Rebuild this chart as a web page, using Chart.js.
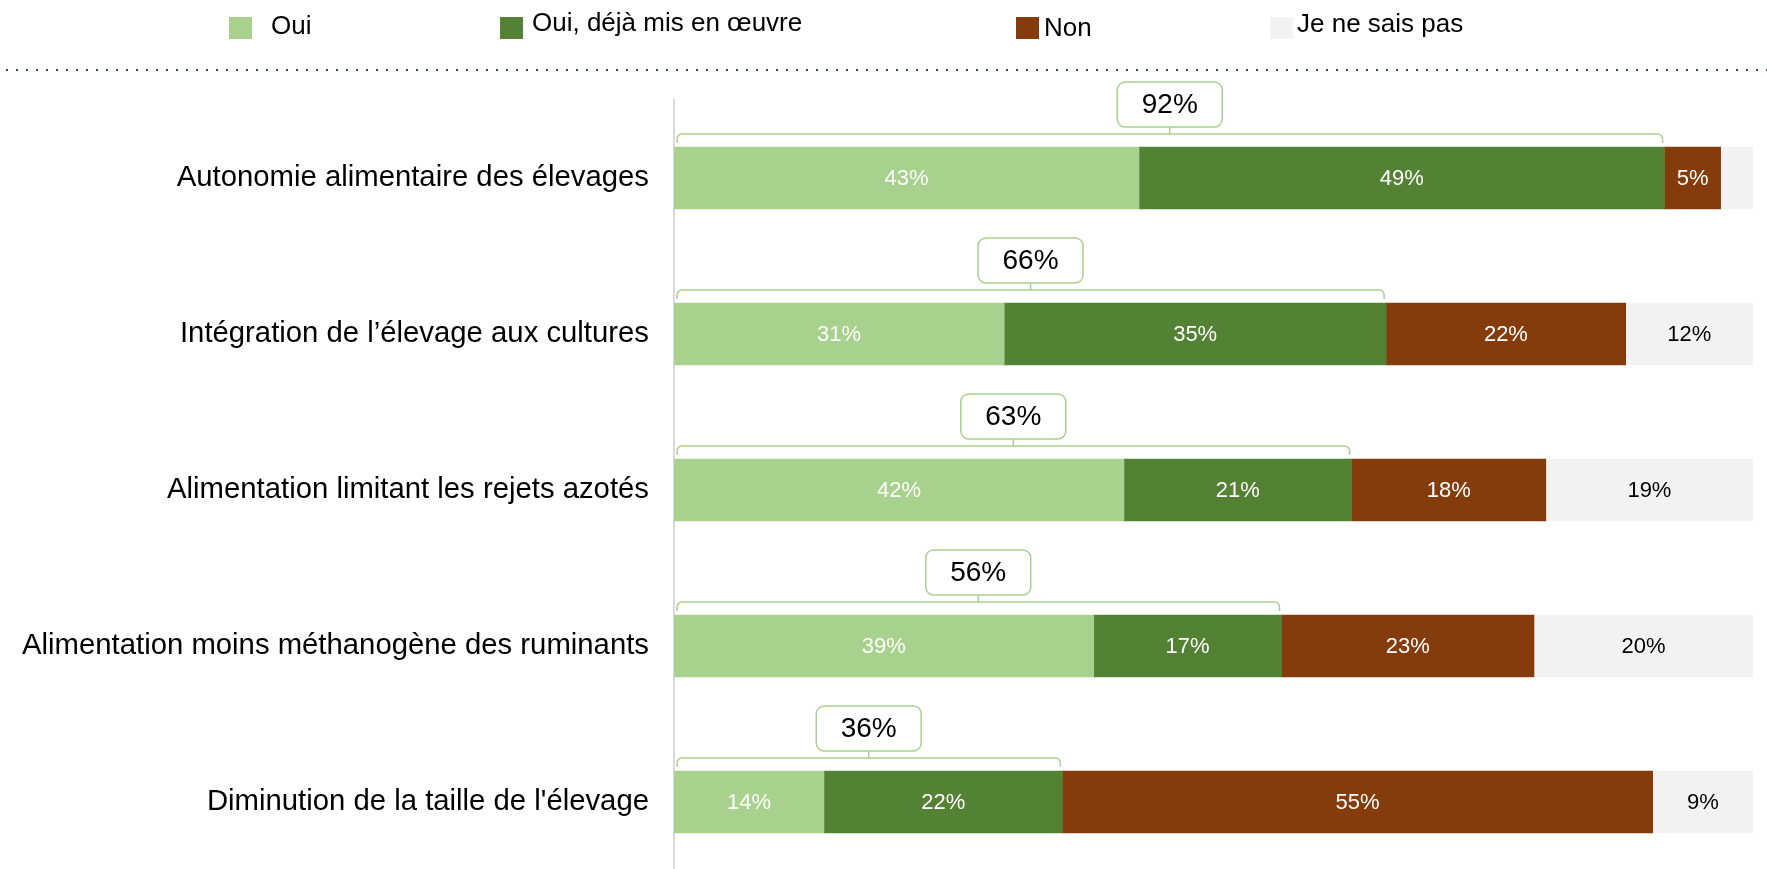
<!DOCTYPE html>
<html><head><meta charset="utf-8">
<script src="https://cdn.jsdelivr.net/npm/chart.js@4.4.0/dist/chart.umd.min.js"></script>
<style>
html,body{margin:0;padding:0;background:#fff;overflow:hidden;width:1767px;height:869px;font-family:"Liberation Sans",Arial,sans-serif;}
#c{position:absolute;left:0;top:0;}
.lg-box{position:absolute;width:23px;height:22px;top:17px;}
.lg-txt{position:absolute;font-size:26px;line-height:26px;color:#000;white-space:nowrap;}
#dots{position:absolute;left:6px;top:69px;width:1761px;height:2px;background:repeating-linear-gradient(to right,#2e4b5b 0 2px,transparent 2px 10px);}
</style></head>
<body>
<canvas id="c" width="1767" height="885" style="width:1767px;height:885px"></canvas>
<div id="legend"></div>
<div id="dots"></div>
<script>
// ---- data ----
const categories = [
  "Autonomie alimentaire des élevages",
  "Intégration de l’élevage aux cultures",
  "Alimentation limitant les rejets azotés",
  "Alimentation moins méthanogène des ruminants",
  "Diminution de la taille de l'élevage"
];
const seriesNames = ["Oui", "Oui, déjà mis en œuvre", "Non", "Je ne sais pas"];
const oui      = [43.1, 30.6, 41.7, 38.9, 13.9];
const ouiDeja  = [48.7, 35.4, 21.1, 17.4, 22.1];
const non      = [5.2, 22.2, 18.0, 23.4, 54.7];
const nsp      = [3.0, 11.8, 19.2, 20.3, 9.3];
const totals   = [92, 66, 63, 56, 36];

// ---- styles ----
const colors = ['#a9d18e', '#548235', '#843c0c', '#f2f2f2'];
const labelColors = ['#ffffff', '#ffffff', '#ffffff', '#000000'];
const FONT = '"Liberation Sans", Arial, sans-serif';
const legendLayout = [
  {box: 229, text: 271, top: 12},
  {box: 500, text: 532, top: 9},
  {box: 1016, text: 1044, top: 14},
  {box: 1270, text: 1297, top: 10}
];

// legend (HTML)
const lg = document.getElementById('legend');
seriesNames.forEach((n, i) => {
  const b = document.createElement('div');
  b.className = 'lg-box'; b.style.left = legendLayout[i].box + 'px'; b.style.background = colors[i];
  lg.appendChild(b);
  const t = document.createElement('div');
  t.className = 'lg-txt'; t.style.left = legendLayout[i].text + 'px'; t.style.top = legendLayout[i].top + 'px';
  t.textContent = n;
  lg.appendChild(t);
});

const segLabels = {
  id: 'segLabels',
  afterDatasetsDraw(chart) {
    const ctx = chart.ctx;
    ctx.save();
    ctx.font = '22px ' + FONT;
    ctx.textAlign = 'center';
    ctx.textBaseline = 'middle';
    chart.data.datasets.forEach((ds, di) => {
      const meta = chart.getDatasetMeta(di);
      meta.data.forEach((el, i) => {
        const v = ds.data[i];
        if (v < 4) return;
        ctx.fillStyle = labelColors[di];
        ctx.fillText(Math.round(v) + '%', (el.x + el.base) / 2, el.y + 1);
      });
    });
    ctx.restore();
  }
};

function roundRect(ctx, x, y, w, h, r) {
  ctx.beginPath();
  ctx.moveTo(x + r, y);
  ctx.lineTo(x + w - r, y);
  ctx.arcTo(x + w, y, x + w, y + r, r);
  ctx.lineTo(x + w, y + h - r);
  ctx.arcTo(x + w, y + h, x + w - r, y + h, r);
  ctx.lineTo(x + r, y + h);
  ctx.arcTo(x, y + h, x, y + h - r, r);
  ctx.lineTo(x, y + r);
  ctx.arcTo(x, y, x + r, y, r);
  ctx.closePath();
}

const brackets = {
  id: 'brackets',
  afterDatasetsDraw(chart) {
    const ctx = chart.ctx;
    const m0 = chart.getDatasetMeta(0), m1 = chart.getDatasetMeta(1);
    ctx.save();
    ctx.strokeStyle = '#a9d18e';
    ctx.lineWidth = 1.5;
    m0.data.forEach((el0, i) => {
      const el1 = m1.data[i];
      const top = el0.y - el0.height / 2;
      const x0 = el0.base + 3, x1 = el1.x - 2;
      const by = top - 13, r = 5;
      ctx.beginPath();
      ctx.moveTo(x0, top - 4);
      ctx.lineTo(x0, by + r);
      ctx.arcTo(x0, by, x0 + r, by, r);
      ctx.lineTo(x1 - r, by);
      ctx.arcTo(x1, by, x1, by + r, r);
      ctx.lineTo(x1, top - 4);
      ctx.stroke();
      const mx = (x0 + x1) / 2;
      const bw = 105, bh = 45, bb = top - 20;
      ctx.beginPath();
      ctx.moveTo(mx, bb);
      ctx.lineTo(mx, by);
      ctx.stroke();
      roundRect(ctx, mx - bw / 2, bb - bh, bw, bh, 8);
      ctx.fillStyle = '#ffffff';
      ctx.fill();
      ctx.stroke();
      ctx.fillStyle = '#000000';
      ctx.font = '28px ' + FONT;
      ctx.textAlign = 'center';
      ctx.textBaseline = 'middle';
      ctx.fillText(totals[i] + '%', mx, bb - bh / 2 + 1);
    });
    ctx.restore();
  }
};

const seriesData = [oui, ouiDeja, non, nsp];
new Chart(document.getElementById('c'), {
  type: 'bar',
  data: {
    labels: categories,
    datasets: seriesNames.map((n, i) => ({
      label: n,
      data: seriesData[i],
      backgroundColor: colors[i],
      borderWidth: 0,
      barThickness: 62
    }))
  },
  options: {
    indexAxis: 'y',
    responsive: false,
    maintainAspectRatio: false,
    devicePixelRatio: 1,
    animation: false,
    layout: {padding: {top: 100, right: 14, bottom: 5, left: 0}},
    plugins: {legend: {display: false}, tooltip: {enabled: false}},
    scales: {
      x: {stacked: true, min: 0, max: 100, display: false},
      y: {
        stacked: true,
        grid: {display: false, drawTicks: false},
        border: {display: true, color: '#d9d9d9', width: 2},
        ticks: {color: '#000000', font: {size: 29.3, family: FONT}, padding: 25},
        afterFit(s) { s.width = 674; s.paddingTop = 0; s.paddingBottom = 0; }
      }
    }
  },
  plugins: [segLabels, brackets]
});
</script>
</body></html>
